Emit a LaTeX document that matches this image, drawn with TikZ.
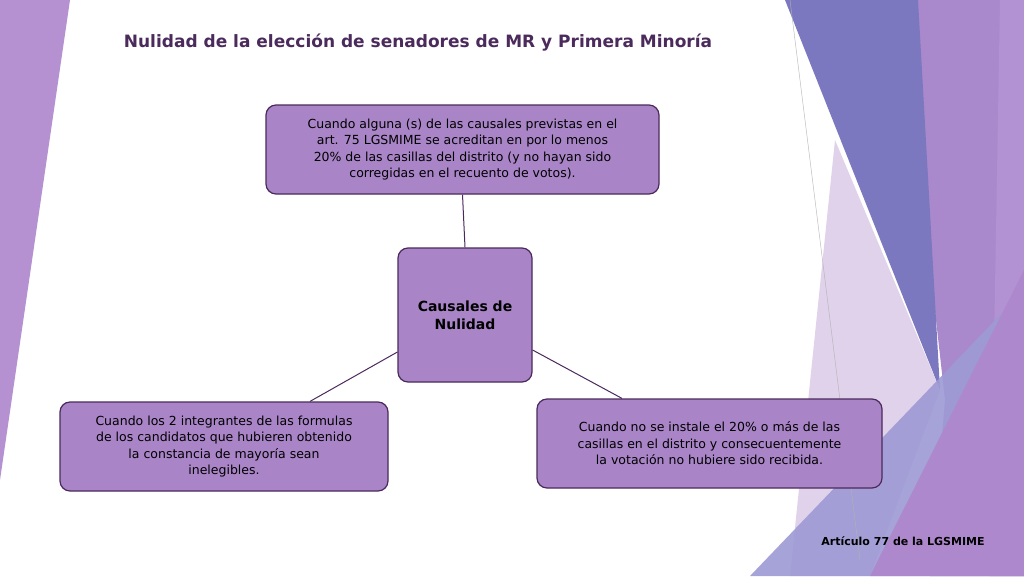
\documentclass[tikz,border=0pt]{standalone}
\usepackage{fontspec}
\setmainfont{DejaVu Sans}
\begin{document}
\begin{tikzpicture}[x=1pt,y=-1pt,
  box/.style={draw=boxline,line width=1.2pt,fill=boxfill,rounded corners=10pt,align=center,text=black,font=\fontsize{12.5}{16.5}\selectfont},
  conn/.style={draw=boxline,line width=1pt}]
\definecolor{boxfill}{HTML}{A985C8}
\definecolor{boxline}{HTML}{4A2A5C}
\definecolor{titlec}{HTML}{4B2A5C}
\useasboundingbox (0,0) rectangle (1024,576);
% background
\fill[white] (0,0) rectangle (1024,576);
\fill[color={rgb,255:red,181;green,145;blue,209}] (0,0)--(70,0)--(0,480)--cycle;
\fill[color={rgb,255:red,169;green,137;blue,203}] (900,0)--(1024,0)--(1024,576)--(930,576)--(945,400)--cycle;
\fill[color={rgb,255:red,178;green,146;blue,210}] (1000,0)--(1024,0)--(1024,576)--(990,576)--cycle;
\fill[color={rgb,255:red,123;green,120;blue,192}] (785,0)--(918,0)--(940,390)--cycle;
\fill[color={rgb,255:red,220;green,206;blue,232},opacity=0.9] (835,140)--(940,390)--(870,576)--(790,576)--cycle;
\fill[color={rgb,255:red,157;green,154;blue,212},opacity=0.9] (750,576)--(1024,290)--(1024,576)--cycle;
\fill[color={rgb,255:red,174;green,136;blue,204}] (870,576)--(1024,270)--(1024,576)--cycle;
\draw[gray!60,line width=0.4pt] (790,0)--(860,560);
% title
\node[font=\fontsize{17}{20}\selectfont\bfseries,text=titlec] (title) at (418,43) {Nulidad de la elección de senadores de MR y Primera Minoría};
% boxes
\node[box,minimum width=393,minimum height=89] (top) at (462.5,149.5) {Cuando alguna (s) de las causales previstas en el\\art. 75 LGSMIME se acreditan en por lo menos\\20\% de las casillas del distrito (y no hayan sido\\corregidas en el recuento de votos).};
\node[box,minimum width=134,minimum height=134,font=\fontsize{14}{18}\selectfont\bfseries] (center) at (465,315) {Causales de\\Nulidad};
\node[box,minimum width=328,minimum height=89] (left) at (224,446.5) {Cuando los 2 integrantes de las formulas\\de los candidatos que hubieren obtenido\\la constancia de mayoría sean\\inelegibles.};
\node[box,minimum width=345,minimum height=89] (right) at (709.5,443.5) {Cuando no se instale el 20\% o más de las\\casillas en el distrito y consecuentemente\\la votación no hubiere sido recibida.};
% connectors
\draw[conn] (top.south) -- (center.north);
\draw[conn] (center.west |- 0,352) -- (left.north -| 310,0);
\draw[conn] (center.east |- 0,350) -- (right.north -| 622,0);
\node[font=\fontsize{11}{13}\selectfont\bfseries] (foot) at (903,541) {Artículo 77 de la LGSMIME};
\end{tikzpicture}
\end{document}
